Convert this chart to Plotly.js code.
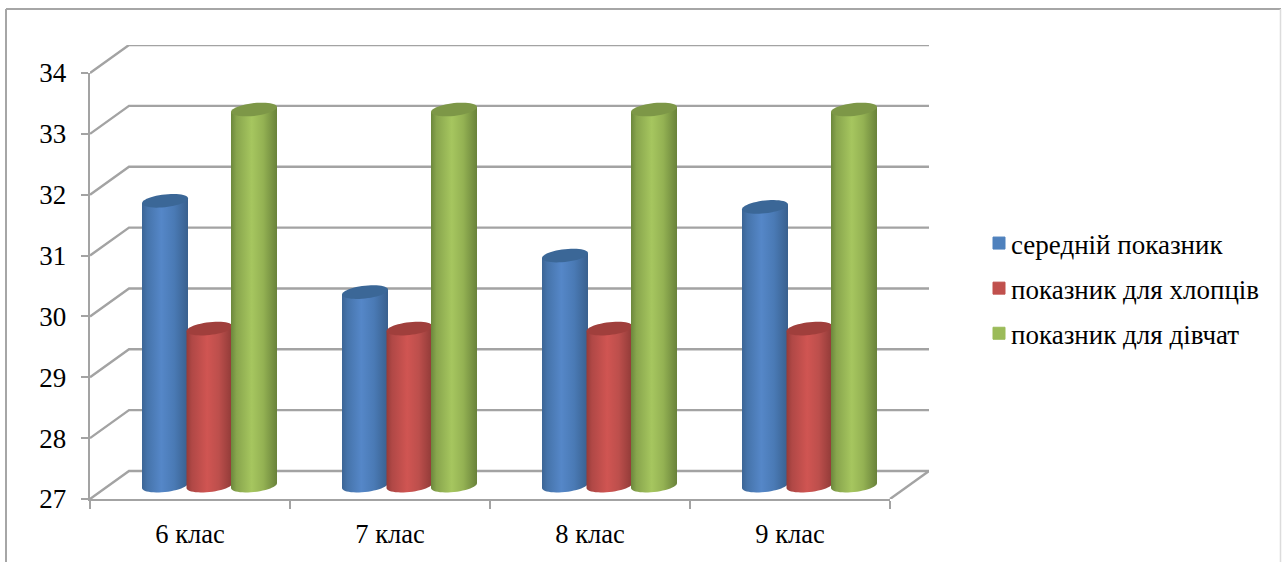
<!DOCTYPE html>
<html>
<head>
<meta charset="utf-8">
<script src="https://cdn.plot.ly/plotly-3.0.1.min.js"></script>
<style>html,body{margin:0;padding:0;background:#fff}#c{width:1282px;height:562px}</style>
</head>
<body>
<div id="c"></div>
<script>
const categories = ['6 клас', '7 клас', '8 клас', '9 клас'];
const seriesNames = ['середній показник', 'показник для хлопців', 'показник для дівчат'];
const avgValues = [31.7, 30.2, 30.8, 31.6];
const boysValues = [29.6, 29.6, 29.6, 29.6];
const girlsValues = [33.2, 33.2, 33.2, 33.2];
const yTicks = [27, 28, 29, 30, 31, 32, 33, 34];

const seriesValues = [avgValues, boysValues, girlsValues];
const flatColors = ['#4f81bd', '#c0504d', '#9bbb59'];
const capColors = ['#3b6797', '#a03f3c', '#7d9747'];
const gradients = [
  [[0, '#3c6595'], [0.12, '#4674ab'], [0.42, '#5587c8'], [0.7, '#4a7ab5'], [1, '#39608e']],
  [[0, '#963b38'], [0.12, '#b04846'], [0.45, '#d05552'], [0.7, '#bd4f4c'], [1, '#8f3a37']],
  [[0, '#6c873c'], [0.12, '#88a54d'], [0.45, '#a6c65f'], [0.7, '#94b253'], [1, '#69823a']]
];
const offsets = [-0.125, 0.0975, 0.32];
const barWidth = 0.23;
const gridColor = '#a3a3a3';
const depthX = 0.195, depthY = 0.46, topDepth = 0.2, baseDepth = 0.22;
const xMin = -0.5, xMax = 3.5;
const yMin = 27, yMax = 34;

// pixel layout of the picture
const plotL = 90, frontW = 800, backW = 839, plotT = 45, plotH = 454, frontH = 426;
const perCat = frontW / (xMax - xMin), perUnit = frontH / (yMax - yMin);
const on = {xaxis: 'x2', yaxis: 'y2'};

const traces = [];

// real bars on the front axes (legend and body colour, covered by the round surface)
seriesNames.forEach((name, s) => {
  traces.push({
    type: 'bar', name: name, legendgroup: 'g' + s,
    x: categories.map((_, i) => i + offsets[s]),
    y: seriesValues[s].map(v => v - yMin - 0.1),
    base: yMin + baseDepth + 0.05,
    width: barWidth - 0.02,
    marker: {color: flatColors[s], line: {width: 1, color: flatColors[s]}},
    hoverinfo: 'skip'
  });
});

// perspective wall and floor lines
yTicks.forEach(v => {
  traces.push(Object.assign({
    type: 'scatter', mode: 'lines', showlegend: false, hoverinfo: 'skip',
    x: [xMin, xMin + depthX, xMax + depthX],
    y: [v, v + depthY, v + depthY],
    line: {color: gridColor, width: 2.4}
  }, on));
});
traces.push(Object.assign({
  type: 'scatter', mode: 'lines', showlegend: false, hoverinfo: 'skip',
  x: [xMax, xMax + depthX], y: [yMin, yMin + depthY],
  line: {color: gridColor, width: 2.4}
}, on));

// cylinder surfaces
const ax = barWidth / 2, by = 0.105, tilt = 0.04, N = 24;
function ell(cx, cy, t) { return [cx + ax * Math.cos(t), cy + by * Math.sin(t) + tilt * Math.cos(t)]; }
seriesNames.forEach((name, s) => {
  seriesValues[s].forEach((v, i) => {
    const cx = i + offsets[s];
    const topY = v + topDepth, botY = yMin + baseDepth;
    const bx = [], by2 = [];
    const tl = ell(cx, topY, Math.PI);
    bx.push(tl[0]); by2.push(tl[1]);
    for (let k = 0; k <= N; k++) {
      const p = ell(cx, botY, Math.PI + Math.PI * k / N);
      bx.push(p[0]); by2.push(p[1]);
    }
    const tr = ell(cx, topY, 0);
    bx.push(tr[0], tl[0]); by2.push(tr[1], tl[1]);
    traces.push(Object.assign({
      type: 'scatter', mode: 'none', showlegend: false, hoverinfo: 'skip',
      x: bx, y: by2, fill: 'toself',
      fillgradient: {type: 'horizontal', colorscale: gradients[s]}
    }, on));
    const cxs = [], cys = [];
    for (let k = 0; k <= 2 * N; k++) {
      const p = ell(cx, topY, Math.PI * k / N);
      cxs.push(p[0]); cys.push(p[1]);
    }
    traces.push(Object.assign({
      type: 'scatter', mode: 'none', showlegend: false, hoverinfo: 'skip',
      x: cxs, y: cys, fill: 'toself', fillcolor: capColors[s]
    }, on));
  });
});

const px = p => (p - plotL) / backW;
const py = p => (plotT + plotH - p) / plotH;

const layout = {
  width: 1282, height: 562,
  margin: {l: plotL, r: 1282 - plotL - backW, t: plotT, b: 562 - plotT - plotH, pad: 0},
  paper_bgcolor: '#fff', plot_bgcolor: 'rgba(0,0,0,0)',
  barmode: 'overlay', hovermode: false, showlegend: true,
  font: {family: '"Liberation Serif", "Times New Roman", serif', color: '#000'},
  xaxis: {
    domain: [0, frontW / backW], anchor: 'y',
    type: 'linear', range: [xMin, xMax], showgrid: false, zeroline: false,
    tickmode: 'array', tickvals: categories.map((_, i) => i), ticktext: categories,
    ticks: '', tickfont: {size: 26.5}, ticklabelstandoff: 10,
    showline: true, linecolor: gridColor, linewidth: 2.4,
    minor: {tickmode: 'array', tickvals: [-0.5, 0.5, 1.5, 2.5, 3.5], ticks: 'outside', ticklen: 8, tickwidth: 2, tickcolor: gridColor, showgrid: false}
  },
  yaxis: {
    domain: [0, frontH / plotH], anchor: 'x',
    range: [yMin, yMax], showgrid: false, zeroline: false,
    tickmode: 'array', tickvals: yTicks, ticks: 'outside', ticklen: 7, tickwidth: 2, tickcolor: gridColor,
    tickfont: {size: 27}, ticklabelstandoff: 9,
    showline: true, linecolor: gridColor, linewidth: 2.4
  },
  xaxis2: {domain: [0, 1], anchor: 'y2', range: [xMin, xMin + backW / perCat], visible: false},
  yaxis2: {domain: [0, 1], anchor: 'x2', range: [yMin, yMin + plotH / perUnit], visible: false},
  legend: {
    x: px(971), xanchor: 'left', y: py(219), yanchor: 'top',
    traceorder: 'grouped', tracegroupgap: 7, font: {size: 27},
    bgcolor: 'rgba(0,0,0,0)', itemclick: false, itemdoubleclick: false
  },
  shapes: [
    {type: 'line', xref: 'paper', yref: 'paper', x0: px(6), x1: px(1281), y0: py(9), y1: py(9), line: {color: '#a6a6a6', width: 2}},
    {type: 'line', xref: 'paper', yref: 'paper', x0: px(6), x1: px(6), y0: py(9), y1: py(562), line: {color: '#a6a6a6', width: 2}},
    {type: 'line', xref: 'paper', yref: 'paper', x0: px(1280.5), x1: px(1280.5), y0: py(9), y1: py(562), line: {color: '#dcdcdc', width: 1.5}}
  ]
};

Plotly.newPlot('c', traces, layout, {displayModeBar: false, staticPlot: true}).then(() => {
  // bring the legend swatches closer to their labels
  document.querySelectorAll('.legend .legendpoints').forEach(g => g.setAttribute('transform', 'translate(8,0)'));
});
</script>
</body>
</html>
